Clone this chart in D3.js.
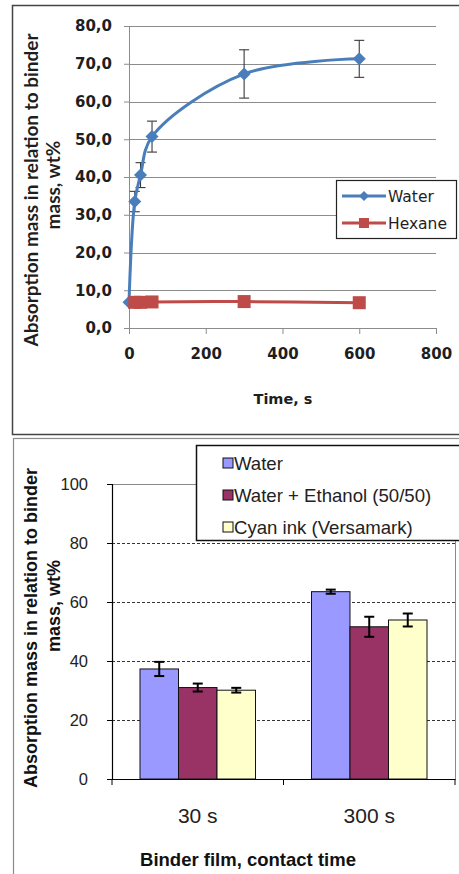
<!DOCTYPE html>
<html><head><meta charset="utf-8">
<script src="https://cdn.jsdelivr.net/npm/d3@7"></script>
<style>html,body{margin:0;padding:0;background:#fff;} svg{display:block}</style>
</head><body>
<svg id="fig" width="459" height="874"></svg>
<script>
// ---- Top panel: absorption vs. time ----
const timeS = [0, 15, 30, 60, 300, 600];
const waterAbs = [6.8, 33.5, 40.5, 50.7, 67.3, 71.3];
const waterErr = [0, 2.7, 3.3, 4.1, 6.4, 4.9];
const hexaneTime = [15, 30, 60, 300, 600];
const hexaneAbs = [6.8, 6.8, 6.9, 7.0, 6.7];
const timeTicks = [0, 200, 400, 600, 800];
const topAbsTicks = [0, 10, 20, 30, 40, 50, 60, 70, 80];

// ---- Bottom panel: absorption per liquid at two contact times ----
const contactTimes = ["30 s", "300 s"];
const liquids = ["Water", "Water + Ethanol (50/50)", "Cyan ink (Versamark)"];
const waterBar = [37.3, 63.5];
const ethanolBar = [31.0, 51.6];
const cyanBar = [30.1, 53.9];
const waterBarErr = [2.4, 0.7];
const ethanolBarErr = [1.35, 3.4];
const cyanBarErr = [0.8, 2.2];
const bottomAbsTicks = [0, 20, 40, 60, 80, 100];

const svg = d3.select("#fig");
svg.append("rect").attr("width", 459).attr("height", 874).attr("fill", "#fff");

// panel frames
svg.append("rect").attr("x", 12.5).attr("y", 5.5).attr("width", 470).attr("height", 429)
  .attr("fill", "none").attr("stroke", "#444").attr("stroke-width", 1.5);
svg.append("rect").attr("x", 13.5).attr("y", 438.5).attr("width", 470).attr("height", 460)
  .attr("fill", "none").attr("stroke", "#8a8a8a").attr("stroke-width", 1.2);

const comma = d3.formatLocale({decimal: ",", thousands: ".", grouping: [3], currency: ["", ""]}).format(".1f");

// ================= TOP PANEL =================
const panelT = svg.append("g");
const xT = d3.scaleLinear().domain([0, 800]).range([129, 436]);
const yT = d3.scaleLinear().domain([0, 80]).range([328, 26]);
const grid = "#8c8c8c";
const txt = "#1e1e1e";

panelT.append("g").selectAll("line").data(topAbsTicks.filter(d => d > 0)).join("line")
  .attr("x1", xT(0)).attr("x2", xT(800)).attr("y1", d => Math.round(yT(d)) + 0.5).attr("y2", d => Math.round(yT(d)) + 0.5)
  .attr("stroke", grid).attr("stroke-width", 1);

const yAxT = panelT.append("g").attr("transform", `translate(${xT(0)},0)`)
  .call(d3.axisLeft(yT).tickValues(topAbsTicks).tickSize(5).tickPadding(12).tickFormat(comma));
const xAxT = panelT.append("g").attr("transform", `translate(0,${yT(0)})`)
  .call(d3.axisBottom(xT).tickValues(timeTicks).tickSize(6).tickPadding(14).tickFormat(d3.format("d")));
[yAxT, xAxT].forEach(a => {
  a.select(".domain").attr("stroke", grid);
  a.selectAll(".tick line").attr("stroke", grid);
  a.selectAll("text").attr("font-family", "DejaVu Sans").attr("font-weight", "bold")
    .attr("font-size", 15).attr("fill", txt);
});

panelT.append("text").attr("x", 283).attr("y", 404).attr("text-anchor", "middle")
  .attr("font-family", "DejaVu Sans").attr("font-weight", "bold").attr("font-size", 14.5).attr("fill", txt)
  .text("Time, s");

const yLabT = panelT.append("g").attr("font-family", "Lato").attr("font-weight", "bold")
  .attr("font-size", 19).attr("fill", txt).attr("text-anchor", "middle");
yLabT.append("text").attr("transform", "translate(38,190) rotate(-90)").text("Absorption mass in relation to binder");
yLabT.append("text").attr("transform", "translate(60,185) rotate(-90)").text("mass, wt%");

const waterPts = timeS.map((t, i) => ({t, v: waterAbs[i], e: waterErr[i]}));
const hexPts = hexaneTime.map((t, i) => ({t, v: hexaneAbs[i]}));
const blue = "#4a7ebb", red = "#be4b48";

// error bars
const eb = panelT.append("g").attr("stroke", "#3a3a3a").attr("stroke-width", 1.1);
waterPts.filter(d => d.e > 0).forEach(d => {
  const x = xT(d.t), y1 = yT(d.v + d.e), y2 = yT(d.v - d.e);
  eb.append("line").attr("x1", x).attr("x2", x).attr("y1", y1).attr("y2", y2);
  eb.append("line").attr("x1", x - 5).attr("x2", x + 5).attr("y1", y1).attr("y2", y1);
  eb.append("line").attr("x1", x - 5).attr("x2", x + 5).attr("y1", y2).attr("y2", y2);
});

const lineW = d3.line().x(d => xT(d.t)).y(d => yT(d.v)).curve(d3.curveCatmullRom.alpha(0.5));
panelT.append("path").attr("d", lineW(waterPts)).attr("fill", "none").attr("stroke", blue).attr("stroke-width", 3);
const diamond = s => `M0,${-s}L${s},0L0,${s}L${-s},0Z`;
panelT.append("g").selectAll("path").data(waterPts).join("path")
  .attr("transform", d => `translate(${xT(d.t)},${yT(d.v)})`).attr("d", diamond(6.5)).attr("fill", blue);

const lineH = d3.line().x(d => xT(d.t)).y(d => yT(d.v)).curve(d3.curveCatmullRom.alpha(0.5));
panelT.append("path").attr("d", lineH(hexPts)).attr("fill", "none").attr("stroke", red).attr("stroke-width", 3);
panelT.append("g").selectAll("rect").data(hexPts).join("rect")
  .attr("x", d => xT(d.t) - 6.5).attr("y", d => yT(d.v) - 6.5).attr("width", 13).attr("height", 13).attr("fill", red);

// legend
const lgT = panelT.append("g");
lgT.append("rect").attr("x", 336.5).attr("y", 180.5).attr("width", 120).attr("height", 58)
  .attr("fill", "#fff").attr("stroke", "#222").attr("stroke-width", 1.2);
[["Water", blue, 196, "d"], ["Hexane", red, 223, "s"]].forEach(([name, c, y, m]) => {
  lgT.append("line").attr("x1", 342).attr("x2", 386).attr("y1", y).attr("y2", y).attr("stroke", c).attr("stroke-width", 3);
  if (m === "d") lgT.append("path").attr("transform", `translate(364,${y})`).attr("d", diamond(5)).attr("fill", c);
  else lgT.append("rect").attr("x", 359).attr("y", y - 5).attr("width", 10).attr("height", 10).attr("fill", c);
  lgT.append("text").attr("x", 388).attr("y", y + 5.5).attr("font-family", "DejaVu Sans").attr("font-size", 15.5)
    .attr("fill", txt).text(name);
});

// ================= BOTTOM PANEL =================
const panelB = svg.append("g");
const x0 = d3.scaleBand().domain(contactTimes).range([112, 455]).padding(0);
const x1 = d3.scaleBand().domain(liquids).range([0, x0.bandwidth()]).paddingInner(0).paddingOuter(0.727);
const yB = d3.scaleLinear().domain([0, 100]).range([779, 484]);
const fills = ["#9999ff", "#993366", "#ffffcc"];
const series = [waterBar, ethanolBar, cyanBar];
const seriesErr = [waterBarErr, ethanolBarErr, cyanBarErr];

// plot area border (top and right)
panelB.append("path").attr("d", `M${112},${yB(100) + 0.5}H${455.5}V${yB(0)}`)
  .attr("fill", "none").attr("stroke", "#8a8a8a").attr("stroke-width", 1);
// dashed gridlines
panelB.append("g").selectAll("line").data(bottomAbsTicks.filter(d => d > 0 && d < 100)).join("line")
  .attr("x1", 112).attr("x2", 455).attr("y1", d => Math.round(yB(d)) + 0.5).attr("y2", d => Math.round(yB(d)) + 0.5)
  .attr("stroke", "#333").attr("stroke-width", 1).attr("stroke-dasharray", "3,2");

// bars
liquids.forEach((liq, si) => {
  panelB.append("g").selectAll("rect").data(contactTimes).join("rect")
    .attr("x", (c) => x0(c) + x1(liq)).attr("width", x1.bandwidth())
    .attr("y", (c, i) => yB(series[si][i])).attr("height", (c, i) => yB(0) - yB(series[si][i]))
    .attr("fill", fills[si]).attr("stroke", "#111").attr("stroke-width", 1);
});
// error bars
const ebB = panelB.append("g").attr("stroke", "#000").attr("stroke-width", 2);
liquids.forEach((liq, si) => {
  contactTimes.forEach((c, i) => {
    const x = x0(c) + x1(liq) + x1.bandwidth() / 2;
    const v = series[si][i], e = seriesErr[si][i];
    const y1 = yB(v + e), y2 = yB(v - e);
    ebB.append("line").attr("x1", x).attr("x2", x).attr("y1", y1).attr("y2", y2);
    ebB.append("line").attr("x1", x - 5).attr("x2", x + 5).attr("y1", y1).attr("y2", y1);
    ebB.append("line").attr("x1", x - 5).attr("x2", x + 5).attr("y1", y2).attr("y2", y2);
  });
});

const yAxB = panelB.append("g").attr("transform", "translate(112,0)")
  .call(d3.axisLeft(yB).tickValues(bottomAbsTicks).tickSize(5).tickPadding(19).tickFormat(d3.format("d")));
const xAxB = panelB.append("g").attr("transform", `translate(0,${yB(0)})`)
  .call(d3.axisBottom(x0).tickSize(0).tickPadding(29));
[yAxB, xAxB].forEach(a => {
  a.select(".domain").attr("stroke", "#000").attr("stroke-width", 1.2);
  a.selectAll(".tick line").attr("stroke", "#000");
  a.selectAll("text").attr("font-family", "Liberation Sans").attr("fill", "#222");
});
yAxB.selectAll("text").attr("font-size", 16.5);
xAxB.selectAll("text").attr("font-size", 21);
// category boundary ticks
panelB.append("g").selectAll("line").data([112, x0("300 s"), 455]).join("line")
  .attr("x1", d => d).attr("x2", d => d).attr("y1", yB(0)).attr("y2", yB(0) + 6)
  .attr("stroke", "#000").attr("stroke-width", 1);

panelB.append("text").attr("x", 248).attr("y", 866).attr("text-anchor", "middle")
  .attr("font-family", "Liberation Sans").attr("font-weight", "bold").attr("font-size", 18.5).attr("fill", "#111")
  .text("Binder film, contact time");
const yLabB = panelB.append("g").attr("font-family", "Liberation Sans").attr("font-weight", "bold")
  .attr("font-size", 18).attr("fill", "#111").attr("text-anchor", "middle");
yLabB.append("text").attr("transform", "translate(37,628) rotate(-90)").text("Absorption mass in relation to binder");
yLabB.append("text").attr("transform", "translate(60,606) rotate(-90)").text("mass, wt%");

// legend
const lgB = panelB.append("g");
lgB.append("rect").attr("x", 196.5).attr("y", 445.5).attr("width", 300).attr("height", 95)
  .attr("fill", "#fff").attr("stroke", "#111").attr("stroke-width", 1.5);
liquids.forEach((liq, i) => {
  const cy = 463 + i * 32;
  lgB.append("rect").attr("x", 223).attr("y", cy - 5).attr("width", 10).attr("height", 10)
    .attr("fill", fills[i]).attr("stroke", "#111").attr("stroke-width", 1);
  lgB.append("text").attr("x", 234).attr("y", cy + 6.5).attr("font-family", "Liberation Sans")
    .attr("font-size", 18.6).attr("fill", "#222").text(liq);
});
</script>
</body></html>
